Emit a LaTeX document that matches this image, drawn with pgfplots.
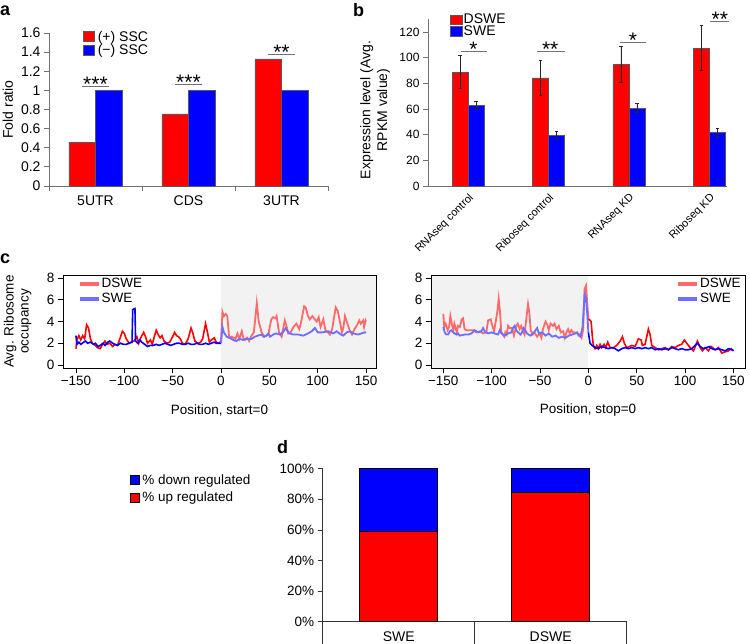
\documentclass[border=0pt]{standalone}
\usepackage{fontspec}
\setmainfont{Liberation Sans}
\usepackage{pgfplots}
\pgfplotsset{compat=1.18}
\definecolor{axgray}{RGB}{115,115,115}
\definecolor{lred}{RGB}{255,105,105}
\definecolor{lblue}{RGB}{110,110,255}
\definecolor{shade}{RGB}{242,242,242}
\newcommand{\fs}[2]{\fontsize{#1bp}{#2bp}\selectfont}
\tikzset{stars/.style={anchor=base, font=\fs{21}{22}, inner sep=0pt, yshift=-5bp}}
\begin{document}
\begin{tikzpicture}
\useasboundingbox (0,0) rectangle (750bp,-644bp);
% panel letters
\node[anchor=base west, inner sep=0pt, font=\fs{18}{20}\bfseries] at (0bp,-15bp) {a};
\node[anchor=base west, inner sep=0pt, font=\fs{18}{20}\bfseries] at (353bp,-16bp) {b};
\node[anchor=base west, inner sep=0pt, font=\fs{18}{20}\bfseries] at (0bp,-263bp) {c};
\node[anchor=base west, inner sep=0pt, font=\fs{18}{20}\bfseries] at (277bp,-453bp) {d};

% ---------------- panel a
\begin{axis}[
  at={(49bp,-186bp)}, anchor=south west,
  scale only axis, width=279bp, height=153bp,
  xmin=-0.5, xmax=2.5, ymin=0, ymax=1.6,
  axis x line=bottom, axis y line=left,
  axis line style={axgray, line width=0.8bp, -},
  ybar=0pt, bar width=26.7bp,
  ytick={0,0.2,0.4,0.6,0.8,1,1.2,1.4,1.6},
  yticklabels={0,0.2,0.4,0.6,0.8,1,1.2,1.4,1.6},
  xtick={0,1,2}, xticklabels={5UTR,CDS,3UTR},
  xtick style={draw=none},
  ytick style={axgray, line width=0.8bp},
  tick align=outside, major tick length=5bp,
  ticklabel style={font=\fs{14}{16}},
  xticklabel style={yshift=-1bp},
  ylabel={Fold ratio},
  ylabel style={font=\fs{14}{16}, at={(axis description cs:-0.147,0.5)}, anchor=center},
  legend style={at={(0.122,1.025)}, anchor=north west, draw=none, fill=none,
    font=\fs{14}{16}, inner sep=0pt, row sep=-1.5bp, nodes={inner xsep=3bp, inner ysep=1.5bp}},
  legend cell align=left,
  legend image code/.code={\draw[#1] (0bp,-5bp) rectangle (11bp,5bp);},
  clip=false,
]
\addplot[fill=red, draw=black!65, line width=0.6bp] coordinates {(0,0.46) (1,0.755) (2,1.33)};
\addplot[fill=blue, draw=black!65, line width=0.6bp] coordinates {(0,1) (1,1) (2,1)};
\legend{(+) SSC, (−) SSC}
\draw[axgray, line width=0.8bp] (axis cs:-0.5,0) -- ++(0bp,-5bp);
\draw[axgray, line width=0.8bp] (axis cs:0.5,0) -- ++(0bp,-5bp);
\draw[axgray, line width=0.8bp] (axis cs:1.5,0) -- ++(0bp,-5bp);
\draw[axgray, line width=0.8bp] (axis cs:2.5,0) -- ++(0bp,-5bp);
\draw[axgray, line width=0.8bp] (axis cs:-0.143,1.04) -- (axis cs:0.143,1.04);
\node[stars] at (axis cs:0,1.04) {***};
\draw[axgray, line width=0.8bp] (axis cs:0.857,1.063) -- (axis cs:1.143,1.063);
\node[stars] at (axis cs:1,1.063) {***};
\draw[axgray, line width=0.8bp] (axis cs:1.857,1.373) -- (axis cs:2.143,1.373);
\node[stars] at (axis cs:2,1.373) {**};
\end{axis}

% ---------------- panel b
\begin{axis}[
  at={(428bp,-186bp)}, anchor=south west,
  scale only axis, width=299bp, height=166.8bp,
  xmin=-0.5, xmax=3.22, ymin=0, ymax=130,
  axis x line=bottom, axis y line=left,
  axis line style={axgray, line width=0.8bp, -},
  ybar=0pt, bar width=16bp,
  ytick={0,20,40,60,80,100,120}, yticklabels={0,20,40,60,80,100,120},
  xtick={0,1,2,3}, xticklabels={RNAseq control,Riboseq control,RNAseq KD,Riboseq KD},
  xtick style={draw=none},
  ytick style={axgray, line width=0.8bp},
  tick align=outside, major tick length=5bp,
  yticklabel style={font=\fs{12}{14}},
  xticklabel style={font=\fs{11}{12}, rotate=45, anchor=north east, inner sep=1bp},
  ylabel={Expression level (Avg.\\RPKM value)},
  ylabel style={font=\fs{14}{16.7}, align=center, at={(axis description cs:-0.177,0.456)}, anchor=center},
  legend style={at={(0.0736,1.04)}, anchor=north west, draw=none, fill=none,
    font=\fs{14}{15}, inner sep=0pt, row sep=-2bp, nodes={inner sep=1.2bp}},
  legend cell align=left,
  legend image code/.code={\draw[#1] (0bp,-4.7bp) rectangle (11.7bp,4.7bp);},
  clip=false,
]
\addplot[fill=red, draw=black!65, line width=0.6bp,
  error bars/.cd, y dir=both, y explicit,
  error bar style={black!85, line width=0.8bp},
  error mark options={black!85, line width=0.8bp, mark size=1.8bp, rotate=90}]
  coordinates {(0,88.8) +- (0,12.8) (1,84.2) +- (0,13.5) (2,94.8) +- (0,13.8) (3,107.3) +- (0,17.5)};
\addplot[fill=blue, draw=black!65, line width=0.6bp,
  error bars/.cd, y dir=both, y explicit,
  error bar style={black!85, line width=0.8bp},
  error mark options={black!85, line width=0.8bp, mark size=1.8bp, rotate=90}]
  coordinates {(0,62.6) +- (0,3.1) (1,39.2) +- (0,3.0) (2,60.5) +- (0,3.5) (3,41.6) +- (0,3.6)};
\legend{DSWE, SWE}
\draw[axgray, line width=0.8bp] (axis cs:-0.09,105) -- (axis cs:0.23,105);
\node[stars] at (axis cs:0.066,105) {*};
\draw[axgray, line width=0.8bp] (axis cs:0.85,105) -- (axis cs:1.2,105);
\node[stars] at (axis cs:1.02,105) {**};
\draw[axgray, line width=0.8bp] (axis cs:1.89,112) -- (axis cs:2.21,112);
\node[stars] at (axis cs:2.05,112) {*};
\draw[axgray, line width=0.8bp] (axis cs:3.01,128) -- (axis cs:3.25,128);
\node[stars] at (axis cs:3.13,128) {**};
\end{axis}

% ---------------- panel c left
\begin{axis}[
  at={(63bp,-368bp)}, anchor=south west,
  scale only axis, width=313bp, height=93bp,
  xmin=-163.4, xmax=160.3, ymin=-0.28, ymax=8.28,
  axis on top,
  axis line style={black, line width=0.8bp},
  xtick={-150,-100,-50,0,50,100,150}, xticklabels={−150,−100,−50,0,50,100,150},
  ytick={0,2,4,6,8}, yticklabels={0,2,4,6,8},
  tick pos=left, tick align=outside, major tick length=5bp,
  tick style={black, line width=0.8bp},
  ticklabel style={font=\fs{13.5}{15}},
  xlabel={Position, start=0},
  xlabel style={font=\fs{13.5}{15}, at={(axis description cs:0.5,-0.452)}, anchor=center},
  ylabel={Avg. Ribosome\\occupancy},
  ylabel style={font=\fs{13.5}{15}, align=center, at={(axis description cs:-0.145,0.5)}, anchor=center},
  legend style={at={(0.048,0.975)}, anchor=north west, draw=none, fill=none,
    font=\fs{13.5}{15}, inner sep=0pt, row sep=2bp, nodes={inner sep=1bp}},
  legend cell align=left,
  legend image code/.code={\draw[#1] (0bp,0bp) -- (19bp,0bp);},
]
\addplot[draw=none, fill=shade, forget plot] coordinates {(0,-1) (170,-1) (170,9) (0,9)} -- cycle;
\addlegendimage{lred, line width=3.5bp}
\addlegendentry{DSWE}
\addlegendimage{lblue, line width=3.5bp}
\addlegendentry{SWE}
% DSWE x<=0
\addplot[red, line width=1.6bp, forget plot] coordinates {
(-150,1.5) (-149,2.3) (-147,2.7) (-145,2.3) (-143,2.7) (-141,2.4) (-139,3.7) (-137,3.4) (-135,2.4) (-133,2.0)
(-130,1.8) (-128,1.6) (-125,1.5) (-123,1.8) (-120,2.2) (-118,1.9) (-115,2.0) (-112,1.7) (-110,1.9) (-107,1.8)
(-105,2.3) (-102,3.1) (-100,2.9) (-98,2.4) (-95,2.0) (-93,2.1) (-90,2.2) (-87,2.6) (-85,2.0) (-83,2.5)
(-80,3.0) (-78,2.6) (-76,2.0) (-73,2.3) (-71,1.9) (-69,2.6) (-67,3.2) (-65,2.8) (-63,2.5) (-61,2.7)
(-59,2.2) (-56,2.0) (-53,2.1) (-50,2.6) (-48,3.0) (-46,2.7) (-44,2.6) (-42,2.4) (-40,2.0) (-37,1.9)
(-34,2.4) (-31,3.4) (-29,2.9) (-27,2.2) (-24,2.0) (-21,2.1) (-19,2.4) (-16,3.8) (-14,3.0) (-12,2.1)
(-10,2.3) (-7,2.5) (-5,2.1) (-2,2.0) (0,2.2)};
% SWE x<=0
\addplot[blue, line width=1.6bp, forget plot] coordinates {
(-150,2.7) (-149,1.9) (-147,2.1) (-145,1.9) (-142,2.1) (-140,2.2) (-138,2.0) (-135,2.1) (-132,1.9) (-130,2.0)
(-127,1.7) (-125,1.8) (-122,2.0) (-120,1.8) (-117,2.1) (-115,2.2) (-112,2.0) (-110,1.9) (-107,1.8) (-104,2.0)
(-101,1.9) (-98,1.9) (-95,2.0) (-92,2.1) (-91.3,5.1) (-89,5.2) (-88.3,2.2) (-86,2.0) (-84,2.3) (-82,2.1)
(-79,1.9) (-76,1.7) (-73,1.8) (-70,1.8) (-67,1.9) (-64,1.8) (-61,1.9) (-58,2.0) (-55,1.9) (-52,1.8)
(-49,1.9) (-46,2.0) (-43,2.0) (-40,1.9) (-37,1.9) (-34,2.0) (-31,1.9) (-28,1.9) (-25,2.0) (-22,1.9)
(-19,1.9) (-16,2.0) (-13,1.9) (-10,2.0) (-7,2.1) (-5,2.0) (-2,2.0) (0,2.0)};
% DSWE x>=0
\addplot[lred, line width=1.8bp, forget plot] coordinates {
(0,2.2) (1.5,4.9) (3,4.5) (5,4.7) (6.5,4.5) (8.5,2.5) (11,2.6) (13,2.5) (15,2.4) (17,2.9)
(19,2.4) (21.5,3.1) (23,2.5) (25,2.3) (27,2.5) (29,2.2) (31,2.6) (34,3.0) (37,5.7) (39,4.0)
(40.5,3.5) (42,3.0) (45,2.6) (49,2.8) (52,4.2) (54,4.4) (56.5,4.3) (57.5,4.5) (60,3.0) (62,2.7)
(62.7,2.6) (66,4.1) (68,3.5) (69.5,2.9) (72,3.0) (75,3.5) (78,3.8) (81,3.3) (82.5,3.8) (86,5.4)
(87.5,5.3) (90,4.5) (91.8,4.2) (94.5,4.5) (97,4.2) (99,4.0) (101,4.4) (103,3.5) (105.8,4.2) (108,3.2)
(112.7,2.8) (115,3.3) (118.6,5.3) (120.6,5.0) (123,4.0) (125,3.0) (126.5,3.4) (128.2,4.5) (130,4.0) (133,3.2)
(135.5,2.8) (138,3.3) (141,3.7) (143,4.1) (144.5,3.8) (147,4.1) (148,3.5) (149.5,4.1) (150,4.0)};
% SWE x>=0
\addplot[lblue, line width=1.8bp, forget plot] coordinates {
(0,2.0) (1.5,3.5) (3,3.0) (5.8,2.6) (9,2.5) (12.6,2.3) (16,2.2) (19,2.4) (23,2.3) (26,2.4)
(31.6,2.4) (35,2.6) (38,2.7) (42,2.8) (44,2.6) (47,2.7) (49,2.9) (50.7,2.6) (54,2.8) (57,2.9)
(61,2.8) (64,3.0) (66.9,3.4) (69,3.1) (71,2.9) (74.8,2.8) (80,2.8) (85,2.7) (90,2.9) (93.8,3.1)
(97.2,3.4) (100,3.0) (105,3.0) (111,3.1) (116,2.9) (119.6,3.1) (124,2.8) (126.5,2.7) (130,3.0) (133.2,3.1)
(136.8,2.9) (142,2.8) (145,2.9) (149,3.0) (150,3.0)};
\end{axis}

% ---------------- panel c right
\begin{axis}[
  at={(431bp,-368bp)}, anchor=south west,
  scale only axis, width=314bp, height=93bp,
  xmin=-162.7, xmax=161.9, ymin=-0.28, ymax=8.28,
  axis on top,
  axis line style={black, line width=0.8bp},
  xtick={-150,-100,-50,0,50,100,150}, xticklabels={−150,−100,−50,0,50,100,150},
  ytick={0,2,4,6,8}, yticklabels={0,2,4,6,8},
  tick pos=left, tick align=outside, major tick length=5bp,
  tick style={black, line width=0.8bp},
  ticklabel style={font=\fs{13.5}{15}},
  xlabel={Position, stop=0},
  xlabel style={font=\fs{13.5}{15}, at={(axis description cs:0.5,-0.452)}, anchor=center},
  legend style={at={(0.99,0.975)}, anchor=north east, draw=none, fill=none,
    font=\fs{13.5}{15}, inner sep=0pt, row sep=2bp, nodes={inner sep=1bp}},
  legend cell align=left,
  legend image code/.code={\draw[#1] (0bp,0bp) -- (19bp,0bp);},
]
\addplot[draw=none, fill=shade, forget plot] coordinates {(-170,-1) (0,-1) (0,9) (-170,9)} -- cycle;
\addlegendimage{lred, line width=3.5bp}
\addlegendentry{DSWE}
\addlegendimage{lblue, line width=3.5bp}
\addlegendentry{SWE}
% DSWE x<=0
\addplot[lred, line width=1.8bp, forget plot] coordinates {
(-150,4.7) (-149,3.5) (-147.5,3.8) (-145.5,3.2) (-144,3.5) (-142.7,4.5) (-141,3.7) (-139.5,3.2) (-138.5,3.8) (-136,3.0)
(-134.8,3.6) (-132.8,3.5) (-131,4.2) (-129.5,4.3) (-128,3.3) (-126,3.2) (-123,3.2) (-119,3.2) (-116,3.0) (-112,3.1)
(-109,2.9) (-105.5,3.0) (-103.7,4.1) (-101,4.2) (-99,3.5) (-97.5,3.1) (-95.8,4.0) (-94,5.0) (-92.7,6.1) (-91.3,4.8)
(-90,3.0) (-87,2.6) (-85.9,3.0) (-84.5,2.8) (-83,3.6) (-81.4,3.4) (-79,3.4) (-77,2.7) (-74.5,3.6) (-73,3.8)
(-71,3.3) (-69.5,3.6) (-68,3.2) (-66,2.8) (-64.5,4.0) (-62.4,5.6) (-61,4.8) (-59.7,3.2) (-57.5,2.8) (-55.8,3.0)
(-53,2.6) (-50.5,2.9) (-48.6,2.5) (-47,3.3) (-44.3,4.0) (-42.4,3.7) (-41,3.2) (-39,3.8) (-36.6,3.6) (-35,3.8)
(-33,3.3) (-30.6,3.6) (-28.6,3.0) (-26,3.1) (-24.4,2.5) (-22.7,3.0) (-21,3.3) (-19.3,2.9) (-17.6,3.2) (-16,3.0)
(-14,3.0) (-11.3,2.9) (-9,2.8) (-7.1,2.5) (-5.5,3.2) (-3.9,7.0) (-2.5,7.3) (-1,5.5) (0,4.2)};
% SWE x<=0
\addplot[lblue, line width=1.8bp, forget plot] coordinates {
(-150,3.5) (-148.5,3.0) (-146.8,2.8) (-145,2.8) (-143.3,3.1) (-141.5,3.2) (-139.8,3.0) (-136.4,2.8) (-134.8,2.9) (-133,2.7)
(-127.9,2.8) (-124.4,2.8) (-121,2.9) (-117.5,3.2) (-114.1,3.0) (-110.6,3.1) (-108.9,3.4) (-107.2,3.1) (-103.8,2.9) (-100.3,3.0)
(-96.8,2.9) (-93.4,2.8) (-91.6,3.2) (-89.9,2.9) (-86.5,2.7) (-83,2.9) (-79.6,3.0) (-77.9,3.4) (-76.3,3.6) (-74.5,3.2)
(-72.8,3.0) (-70,2.8) (-68.6,3.0) (-66.9,3.4) (-65.2,3.2) (-63.5,2.9) (-60,2.7) (-57.1,2.9) (-54.7,3.2) (-53,3.4)
(-51.2,2.9) (-47.8,3.0) (-44.3,2.7) (-40.9,2.9) (-37.4,2.6) (-34,2.7) (-30.6,2.5) (-27.1,2.6) (-23.7,2.5) (-20.2,2.7)
(-16.8,2.8) (-13.3,2.9) (-11.6,3.0) (-9.9,2.7) (-8.2,2.6) (-6,3.5) (-3.9,6.5) (-2.5,6.2) (-1,4.5) (0,3.0)};
% DSWE x>=0
\addplot[red, line width=1.6bp, forget plot] coordinates {
(0,4.2) (0.7,4.2) (2.8,4.0) (4.2,2.5) (5.2,1.8) (6.9,1.5) (8.6,1.8) (10.3,1.5) (12.1,1.9) (13.8,1.6)
(16.2,1.9) (17.9,1.6) (20,2.1) (22.4,1.6) (25.9,1.6) (29.3,1.8) (32.8,2.2) (35.2,2.6) (37.2,2.0) (39.6,1.6)
(44.8,1.8) (48.3,1.7) (51.7,2.4) (54.5,2.3) (55.8,1.8) (58.6,1.9) (62,3.3) (63.8,2.8) (65.5,1.8) (69,1.6)
(72.4,1.4) (75.9,1.5) (79.3,1.6) (82.8,1.4) (86.2,1.7) (89.6,1.6) (93,1.8) (96.5,1.9) (99.3,2.3) (101.7,2.0)
(105.1,1.6) (108.6,1.3) (111,1.8) (112.7,2.2) (115.5,1.6) (117.9,1.3) (120.6,1.6) (124,1.3) (126.8,1.7) (131,1.4)
(134.5,1.6) (137.9,1.1) (141.4,1.2) (144.8,1.3) (147.6,1.5) (150,1.3)};
% SWE x>=0
\addplot[blue, line width=1.6bp, forget plot] coordinates {
(0,3.0) (1.7,2.0) (4,1.8) (6.9,1.6) (10.3,1.5) (13.8,1.7) (17.2,1.6) (20.7,1.5) (24.1,1.6) (27.6,1.5)
(31,1.3) (34.5,1.5) (37.9,1.6) (41.4,1.5) (44.8,1.6) (48.3,1.5) (51.7,1.6) (55.2,1.5) (58.6,1.6) (62,1.5)
(65.5,1.6) (69,1.4) (72.4,1.5) (75.9,1.4) (79.3,1.5) (82.8,1.4) (86.2,1.6) (89.6,1.5) (93,1.4) (96.5,1.5)
(100,1.4) (103.4,1.4) (106.8,1.5) (110.3,1.8) (112.7,2.0) (115.5,1.7) (118.9,1.5) (122.4,1.6) (124.8,1.7) (127.6,1.5)
(131,1.4) (134.5,1.5) (137.9,1.4) (141.4,1.3) (144.8,1.5) (148.3,1.4) (150,1.3)};
\end{axis}

% ---------------- panel d
\begin{axis}[
  at={(322.7bp,-621.7bp)}, anchor=south west,
  scale only axis, width=304bp, height=153bp,
  xmin=-0.5, xmax=1.5, ymin=0, ymax=100,
  axis x line=bottom, axis y line=left,
  axis line style={black!80, line width=0.8bp, -},
  ybar stacked, bar width=78bp,
  ytick={0,20,40,60,80,100}, yticklabels={0\%,20\%,40\%,60\%,80\%,100\%},
  xtick={0,1}, xticklabels={SWE,DSWE},
  xtick style={draw=none},
  ytick style={black!80, line width=0.8bp},
  tick align=outside, major tick length=5bp,
  yticklabel style={font=\fs{13.5}{15}},
  xticklabel style={font=\fs{14}{15}, yshift=-1bp},
  legend style={at={(-0.635,0.97)}, anchor=north west, draw=none, fill=none,
    font=\fs{13.5}{15}, inner sep=0pt, row sep=4bp, nodes={inner xsep=3bp, inner ysep=1bp}},
  legend cell align=left,
  reverse legend,
  legend image code/.code={\draw[#1] (0bp,-4.5bp) rectangle (9bp,4.5bp);},
  clip=false,
]
\addplot[fill=red, draw=black, line width=0.6bp] coordinates {(0,59.3) (1,84.3)};
\addplot[fill=blue, draw=black, line width=0.6bp] coordinates {(0,40.7) (1,15.7)};
\legend{\% up regulated, \% down regulated}
\draw[black!80, line width=0.8bp] (axis cs:-0.5,0) -- ++(0bp,-25bp);
\draw[black!80, line width=0.8bp] (axis cs:0.5,0) -- ++(0bp,-25bp);
\draw[black!80, line width=0.8bp] (axis cs:1.5,0) -- ++(0bp,-25bp);
\end{axis}
\end{tikzpicture}
\end{document}
